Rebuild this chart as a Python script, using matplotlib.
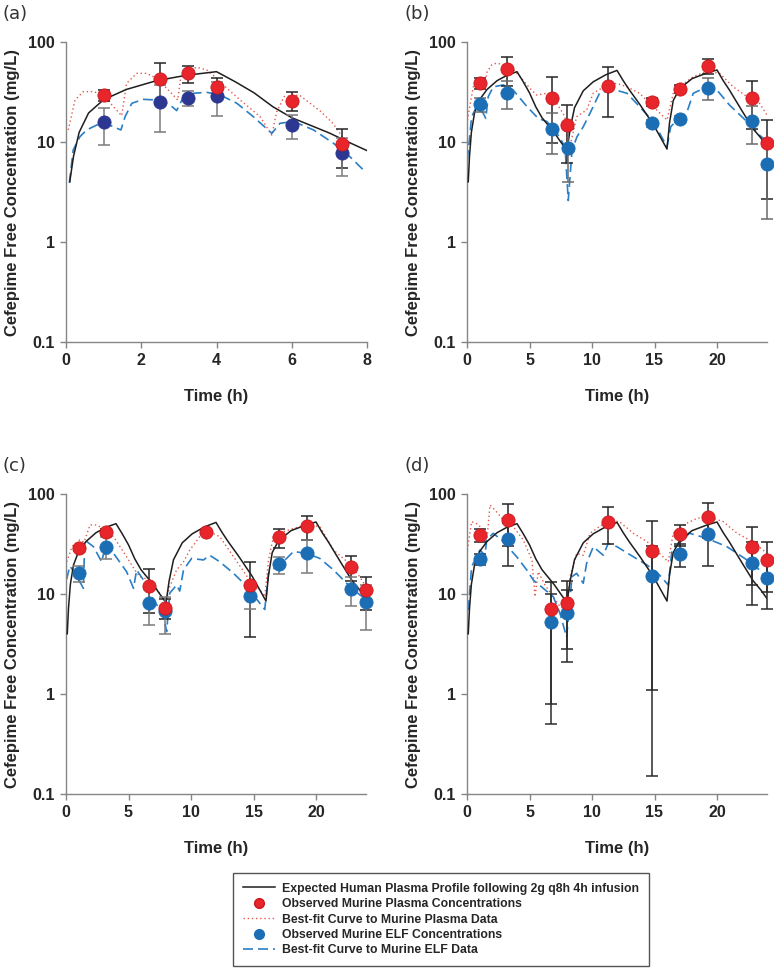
import matplotlib
matplotlib.use("Agg")
import matplotlib.pyplot as plt
from matplotlib.lines import Line2D

# expected human plasma profile (2g q8h, 4h infusion), same curve in every panel
human_t = [0.1, 0.2, 0.35, 0.6, 1.0, 1.6, 2.4, 3.2, 4.0, 4.5, 5.0, 5.5, 6.0, 7.0, 7.5, 8.0,
           8.25, 8.6, 9.3, 10.1, 11.1, 12.0, 12.5, 13.0, 13.8, 14.9, 16.0,
           16.2, 16.5, 17.0, 18.0, 19.2, 20.0, 20.5, 21.0, 22.0, 22.9, 23.5, 24.0]
human_c = [4.0, 7.2, 12.5, 19.5, 26.5, 33.5, 41.0, 46.5, 50.5, 40.0, 31.0, 22.5, 17.5, 12.3, 10.0, 8.2,
           13.5, 22.0, 32.5, 40.0, 47.0, 52.0, 41.0, 33.0, 24.0, 15.0, 8.5,
           15.5, 26.0, 34.0, 43.0, 49.0, 52.5, 41.0, 33.0, 20.5, 13.5, 11.0, 9.0]

# (a)
a_pt = [1, 2.5, 3.25, 4, 6, 7.33]
a_plasma = [29.5, 43, 48.6, 35.7, 26, 9.5]
a_plasma_sd = [3.6, 19, 9.5, 8, 5.5, 4]
a_et = [1, 2.5, 3.25, 4, 6, 7.33]
a_elf = [15.7, 25, 27.8, 29, 14.8, 7.8]
a_elf_sd = [6.3, 12.5, 4.9, 11, 4, 3.2]
a_pfit_t = [0.06, 0.24, 0.46, 0.73, 0.99, 1.26, 1.48, 1.61, 1.88, 2.14, 2.41, 2.68, 2.97, 3.04,
            3.21, 3.48, 3.74, 3.96, 4.18, 4.63, 5.16, 5.47, 5.6, 5.8, 6.2, 6.75, 7.1, 7.4]
a_pfit_c = [13.2, 26.3, 31.9, 31.9, 29.5, 22.6, 18.3, 38.6, 48.6, 48.6, 43.3, 34.4, 26.3, 41.7,
            52.5, 55.8, 52.5, 45, 37.2, 26.3, 17.9, 11.7, 20, 28.5, 29.5, 20.5, 15.3, 10.5]
a_efit_t = [0.09, 0.19, 0.37, 0.55, 0.82, 1.08, 1.35, 1.46, 1.57, 1.75, 2.06, 2.41, 2.77, 2.94,
            3.08, 3.39, 3.74, 4.1, 4.54, 4.98, 5.47, 5.69, 6.05, 6.58, 7.11, 7.55, 7.95]
a_efit_c = [3.9, 8.3, 11.3, 13.2, 14.8, 15.2, 13.7, 13.2, 17.9, 24.4, 26.7, 26.3, 23.4, 20.6,
            26.3, 30.7, 31.4, 29.5, 24.4, 17.9, 12.2, 15.4, 16.0, 13.2, 9.7, 7.1, 5.05]

# (b)
b_pt = [1, 3.22, 6.76, 8.0, 11.3, 14.76, 17.0, 19.26, 22.77, 24]
b_plasma = [38.9, 53.7, 27.3, 14.7, 36.6, 25.3, 34.2, 58, 27.3, 9.7]
b_plasma_sd = [5, 17, 17.5, 8.5, 19, 2.5, 3.3, 10, 13.7, 7]
b_et = [1, 3.22, 6.76, 8.05, 14.76, 17.0, 19.26, 22.77, 24]
b_elf = [23.8, 30.9, 13.6, 8.8, 15.4, 17.1, 34.9, 16.3, 6.0]
b_elf_sd = [4, 9.5, 6, 4.8, 1.3, 1.3, 8.5, 6.7, 4.3]
b_pfit_t = [0.03, 0.5, 1.04, 1.44, 1.6, 1.97, 2.37, 3.44, 4.24, 5.04, 5.57, 6.37, 7.17, 7.84,
            8.05, 8.24, 8.77, 9.57, 10.1, 11.2, 12.0, 12.8, 13.8, 14.9, 16.0, 16.5, 17.0, 18.1,
            19.2, 20.2, 21.3, 22.4, 23.4, 24.0]
b_pfit_c = [16.5, 35.6, 43.3, 38.6, 50, 58.9, 61.6, 56.6, 45, 34.4, 29.5, 30.7, 24.4, 17.9,
            8.9, 9.0, 17.9, 20.9, 30.7, 37.2, 38.6, 35.6, 30.7, 22.6, 16.6, 30.7, 35.6, 45,
            50.8, 48.6, 35.6, 28.4, 24.4, 18.6]
b_efit_t = [0.03, 0.37, 0.77, 1.3, 1.5, 1.7, 2.1, 2.9, 3.7, 4.8, 5.7, 6.4, 7.2, 7.84, 8.1, 8.4,
            8.8, 9.3, 9.84, 10.6, 11.7, 12.8, 13.8, 14.9, 16.0, 16.3, 16.8, 17.6, 18.1, 19.2,
            20.0, 21.0, 22.4, 23.4, 24.0]
b_efit_c = [6.6, 17.9, 22.6, 19.4, 17.2, 28.4, 35.6, 37.2, 33.0, 22.6, 17.2, 16.0, 12.2, 9.0,
            2.6, 8.3, 11.3, 14.2, 19.4, 30.7, 33.6, 30.7, 22.6, 16.0, 9.0, 14.2, 16.6, 20.0,
            30.7, 35.6, 33.0, 23.4, 16.0, 11.7, 10.2]

# (c)
c_pt = [1, 3.2, 6.67, 7.95, 11.2, 14.7, 17.0, 19.25, 22.8, 24]
c_plasma = [29, 41.7, 12.1, 7.3, 41.4, 12.2, 36.9, 47.5, 18.8, 10.9]
c_plasma_sd = [1.5, 3, 5.7, 1.7, 2, 8.5, 8, 12.5, 5.3, 4]
c_et = [1, 3.2, 6.67, 7.95, 14.7, 17.0, 19.25, 22.8, 24]
c_elf = [16.1, 29.7, 8.1, 6.7, 9.6, 19.8, 25.5, 11.2, 8.4]
c_elf_sd = [3, 7.5, 3.2, 2.7, 2.5, 3.8, 9.4, 3.6, 4]
c_pfit_t = [0.05, 0.5, 1.1, 1.45, 1.92, 2.45, 3.0, 3.8, 4.85, 5.5, 5.9, 6.7, 7.5, 7.95, 8.3,
            8.85, 9.4, 9.9, 10.7, 11.5, 12.3, 13.4, 14.5, 15.5, 15.9, 16.2, 16.6, 17.4, 18.2,
            19.25, 20.3, 21.4, 22.5, 23.5, 24]
c_pfit_c = [21, 30, 34.7, 33, 49, 49, 45, 37.4, 23.6, 17.4, 14.9, 13.8, 10.2, 8.1, 11.8,
            17.4, 21, 27.5, 37.4, 42, 37.4, 23.6, 14.9, 11, 9.4, 21.9, 37.4, 42, 45.3,
            49, 47.3, 27.5, 21, 14.9, 11.8]
c_efit_t = [0.05, 0.3, 0.6, 1.0, 1.39, 1.5, 2.2, 2.85, 3.0, 3.8, 4.85, 5.4, 5.65, 6.2, 7.0, 7.8,
            8.05, 8.3, 8.85, 9.1, 9.4, 10.05, 11.0, 11.5, 12.3, 13.4, 14.5, 15.5, 15.9, 16.2,
            16.85, 17.65, 18.2, 19.25, 20.3, 21.4, 22.45, 23.5, 24]
c_efit_c = [14, 19, 17, 14, 11.4, 34.7, 29.7, 21, 25, 25.5, 16.7, 11.4, 17.4, 13.8, 8.7, 6.2,
            4.2, 10.2, 12.3, 10.7, 17.4, 22.7, 21.9, 24.4, 21, 16.1, 11.8, 8.1, 7.0, 16.1,
            18.8, 22.7, 26.6, 25.5, 22.7, 17.4, 12.8, 9.8, 9.0]

# (d)
d_pt = [1.04, 3.25, 6.72, 8.03, 11.3, 14.8, 17, 19.3, 22.8, 24]
d_plasma = [38.9, 55, 7.0, 8.2, 52.9, 27.1, 39.8, 58.5, 29.7, 21.9]
d_plasma_sd = [6, 25, 6.2, 5.4, 21.5, 26, 9.5, 22, 17.4, 11.5]
d_et = [1.04, 3.25, 6.72, 8.03, 14.8, 17, 19.3, 22.8, 24]
d_elf = [22.4, 35.2, 5.3, 6.5, 15.1, 25.1, 39.8, 20.6, 14.4]
d_elf_sd = [3, 16, 4.8, 4.4, 14.95, 6.3, 20.7, 12.8, 7.3]
d_pfit_t = [0.03, 0.37, 0.85, 1.2, 1.57, 1.84, 2.24, 2.9, 3.7, 4.5, 5.2, 5.44, 5.7, 6.24, 6.78,
            7.44, 8.0, 8.24, 8.77, 9.3, 9.84, 10.6, 11.4, 12.2, 13.3, 14.4, 15.4, 16.1, 16.5,
            17.3, 18.4, 19.3, 20.5, 21.6, 22.6, 23.7, 24]
d_pfit_c = [27.5, 52.9, 50, 45, 32.1, 77.6, 69.2, 55, 47.3, 34.7, 21.9, 9.4, 16.7, 12.3, 9.8,
            7.5, 6.8, 14.9, 25.5, 24.4, 40.5, 47.3, 54.1, 52.9, 40.5, 33.4, 25.5, 21, 40.5,
            49, 57.1, 59.2, 52.9, 40.5, 34.7, 27.5, 24.4]
d_efit_t = [0.1, 0.37, 1.04, 1.44, 1.57, 2.1, 2.9, 3.97, 4.78, 5.3, 6.1, 6.9, 7.44, 7.97, 8.4,
            8.77, 9.3, 9.57, 10.1, 10.9, 11.3, 12.0, 13.3, 14.4, 15.4, 16.1, 16.4, 17.8, 19.2,
            20.8, 22.4, 23.4, 24]
d_efit_c = [6.9, 18.8, 27.5, 24.4, 34.7, 40.5, 33.4, 23.6, 17.4, 13.8, 11.4, 9.4, 6.4, 3.7, 14.9,
            16.1, 12.8, 20.3, 29.7, 24.4, 32.1, 29.7, 23.6, 19.5, 15.5, 12.3, 27.5, 40.5, 36.0,
            29.7, 21.9, 17.4, 13.8]

legend_labels = ["Expected Human Plasma Profile following 2g q8h 4h infusion",
                 "Observed Murine Plasma Concentrations",
                 "Best-fit Curve to Murine Plasma Data",
                 "Observed Murine ELF Concentrations",
                 "Best-fit Curve to Murine ELF Data"]

RED = "#e8252b"
BLUE = "#1b6db4"
NAVY = "#2b3790"
DOT_RED = "#e2584a"
DASH_BLUE = "#2a7fc6"
BOLD = dict(family="Liberation Sans", weight="bold")

W, H = 774, 976
fig = plt.figure(figsize=(W / 100, H / 100), dpi=100)

panels = [
    ("(a)", [66, 342, 301], 8, [0, 2, 4, 6, 8], a_pt, a_plasma, a_plasma_sd, a_et, a_elf, a_elf_sd,
     a_pfit_t, a_pfit_c, a_efit_t, a_efit_c, NAVY, "#7a7a7a"),
    ("(b)", [467, 342, 300], 24, [0, 5, 10, 15, 20], b_pt, b_plasma, b_plasma_sd, b_et, b_elf, b_elf_sd,
     b_pfit_t, b_pfit_c, b_efit_t, b_efit_c, BLUE, "#6a6a6a"),
    ("(c)", [66, 794, 300], 24, [0, 5, 10, 15, 20], c_pt, c_plasma, c_plasma_sd, c_et, c_elf, c_elf_sd,
     c_pfit_t, c_pfit_c, c_efit_t, c_efit_c, BLUE, "#7a7a7a"),
    ("(d)", [467, 794, 300], 24, [0, 5, 10, 15, 20], d_pt, d_plasma, d_plasma_sd, d_et, d_elf, d_elf_sd,
     d_pfit_t, d_pfit_c, d_efit_t, d_efit_c, BLUE, "#2b2b2b"),
]

for (tag, (left, bottom, width), xmax, xticks, pt, pc, psd, et, ec, esd,
     pft, pfc, eft, efc, elf_col, elf_err) in panels:
    ax = fig.add_axes([left / W, 1 - bottom / H, width / W, 300 / H])
    ax.set_yscale("log")
    ax.set_ylim(0.1, 100)
    ax.set_xlim(0, xmax)

    ht = [t for t in human_t if t <= xmax]
    ax.plot(ht, human_c[:len(ht)], color="#1e1e1e", lw=1.1, zorder=3)
    ax.plot(pft, pfc, color=DOT_RED, lw=1.0, ls=(0, (1, 2)), zorder=2)
    ax.plot(eft, efc, color=DASH_BLUE, lw=1.2, ls=(0, (6, 3)), zorder=2)

    ax.errorbar(pt, pc, yerr=psd, fmt="none", ecolor="#262626", elinewidth=1.1,
                capsize=4.5, capthick=1.1, zorder=4, clip_on=False)
    ax.errorbar(et, ec, yerr=esd, fmt="none", ecolor=elf_err, elinewidth=1.1,
                capsize=4.5, capthick=1.1, zorder=4, clip_on=False)
    ax.plot(et, ec, "o", ms=9.5, mfc=elf_col, mec=elf_col, mew=0.6, zorder=5, clip_on=False)
    ax.plot(pt, pc, "o", ms=9.5, mfc=RED, mec="#c8181e", mew=0.6, zorder=6, clip_on=False)

    for s in ["top", "right"]:
        ax.spines[s].set_visible(False)
    for s in ["left", "bottom"]:
        ax.spines[s].set_color("#858585")
        ax.spines[s].set_linewidth(1.0)
    ax.set_yticks([0.1, 1, 10, 100])
    ax.set_yticklabels(["0.1", "1", "10", "100"])
    ax.minorticks_off()
    ax.set_xticks(xticks)
    ax.tick_params(direction="out", length=4, width=1, color="#858585", pad=4, labelsize=11.5)
    for lab in ax.get_xticklabels() + ax.get_yticklabels():
        lab.set_fontfamily("Liberation Sans")
        lab.set_fontweight("bold")
        lab.set_color("#262626")
    ax.set_xlabel("Time (h)", fontsize=12, labelpad=15, color="#262626", **BOLD)
    ax.set_ylabel("Cefepime Free Concentration (mg/L)", fontsize=12, labelpad=6,
                  color="#262626", **BOLD)

    fig.text((left - 63) / W, 1 - (bottom - 328) / H, tag, fontsize=13, family="DejaVu Sans",
             color="#333333", ha="left", va="center")

handles = [
    Line2D([], [], color="#1e1e1e", lw=1.1),
    Line2D([], [], ls="none", marker="o", ms=7, mfc=RED, mec="#c8181e"),
    Line2D([], [], color=DOT_RED, lw=1.0, ls=(0, (1, 2))),
    Line2D([], [], ls="none", marker="o", ms=7, mfc=BLUE, mec=BLUE),
    Line2D([], [], color=DASH_BLUE, lw=1.2, ls=(0, (6, 3))),
]
leg = fig.legend(handles, legend_labels, loc="upper left", bbox_to_anchor=(233 / W, 1 - 873 / H),
                 frameon=True, fancybox=False, edgecolor="#555555", framealpha=1,
                 prop=dict(family="Liberation Sans", weight="bold", size=8.8),
                 handlelength=2.6, handletextpad=0.6, labelspacing=0.28, borderpad=0.8,
                 borderaxespad=0)
leg.get_frame().set_linewidth(1.0)
for t in leg.get_texts():
    t.set_color("#262626")

fig.savefig("out.png", dpi=100)
